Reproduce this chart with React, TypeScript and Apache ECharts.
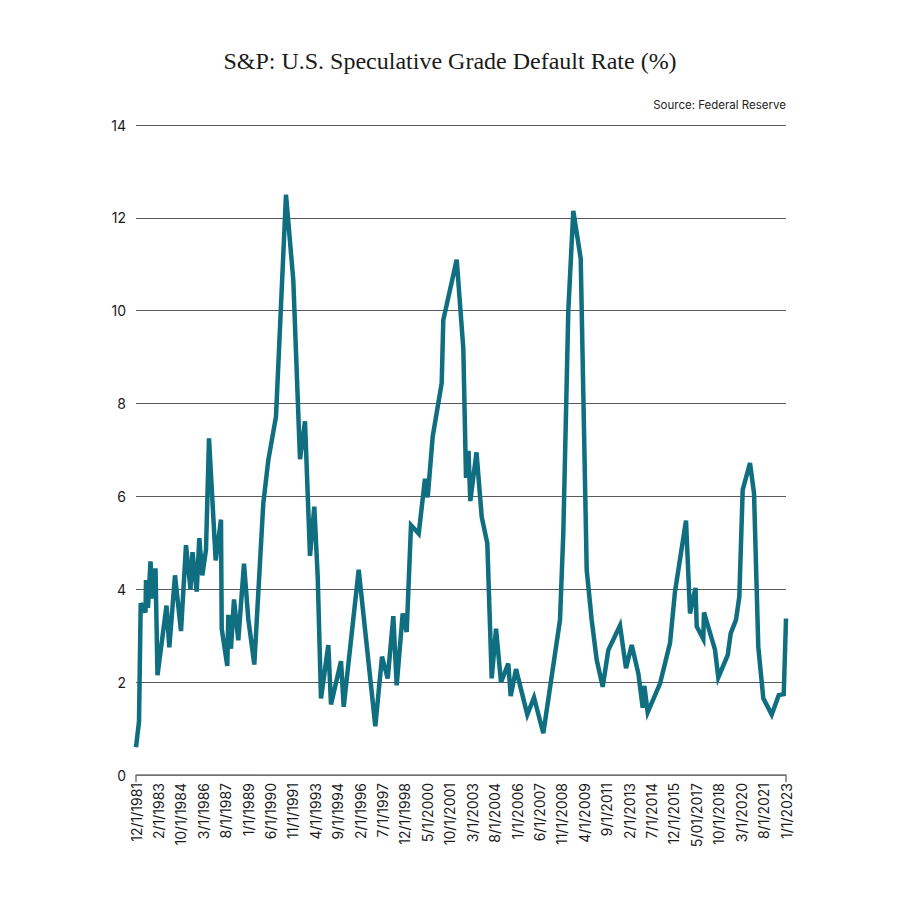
import React, { useEffect, useRef } from "react";
import * as echarts from "echarts";

const tickLabels = [
  "12/1/1981", "2/1/1983", "10/1/1984", "3/1/1986", "8/1/1987", "1/1/1989",
  "6/1/1990", "11/1/1991", "4/1/1993", "9/1/1994", "2/1/1996", "7/1/1997",
  "12/1/1998", "5/1/2000", "10/1/2001", "3/1/2003", "8/1/2004", "1/1/2006",
  "6/1/2007", "11/1/2008", "4/1/2009", "9/1/2011", "2/1/2013", "7/1/2014",
  "12/1/2015", "5/01/2017", "10/1/2018", "3/1/2020", "8/1/2021", "1/1/2023",
];

// position of each observation, measured in tick-label steps along the axis
const pointPos = [
  0, 0.134, 0.21, 0.424, 0.446, 0.535, 0.647, 0.736, 0.87, 0.959,
  1.361, 1.486, 1.74, 2.008, 2.231, 2.432, 2.521, 2.708, 2.824, 2.958,
  3.123, 3.257, 3.556, 3.792, 3.824, 4.073, 4.118, 4.238, 4.372, 4.564,
  4.818, 5.01, 5.278, 5.679, 5.903, 6.246, 6.692, 7.018, 7.317, 7.54,
  7.763, 7.955, 8.107, 8.254, 8.58, 8.7, 9.146, 9.267, 9.936, 10.677,
  10.975, 11.23, 11.48, 11.631, 11.899, 12.077, 12.269, 12.613, 12.894, 13.014,
  13.237, 13.639, 13.71, 14.308, 14.603, 14.723, 14.835, 14.915, 15.192, 15.424,
  15.674, 15.87, 16.062, 16.285, 16.61, 16.717, 16.954, 17.458, 17.757, 18.172,
  18.917, 19.064, 19.287, 19.51, 19.841, 20.108, 20.331, 20.554, 20.822, 21.072,
  21.594, 21.862, 22.116, 22.411, 22.607, 22.679, 22.83, 23.379, 23.825, 24.048,
  24.539, 24.718, 24.963, 25.016, 25.31, 25.341, 25.832, 25.979, 26.399, 26.533,
  26.769, 26.917, 27.068, 27.394, 27.573, 27.764, 27.988, 28.362, 28.676, 28.899,
  29,
];

const defaultRate = [
  0.6, 1.15, 3.7, 3.5, 4.2, 3.6, 4.6, 3.8, 4.45, 2.15,
  3.65, 2.75, 4.3, 3.1, 4.95, 4.0, 4.8, 3.95, 5.1, 4.3,
  4.85, 7.25, 4.62, 5.5, 3.15, 2.35, 3.45, 2.72, 3.78, 2.9,
  4.55, 3.36, 2.38, 5.85, 6.78, 7.72, 12.5, 10.66, 6.8, 7.62,
  4.72, 5.78, 4.27, 1.65, 2.8, 1.52, 2.45, 1.47, 4.42, 1.05,
  2.55, 2.08, 3.42, 1.93, 3.48, 3.08, 5.38, 5.2, 6.38, 5.98,
  7.29, 8.44, 9.8, 11.1, 9.19, 6.4, 6.98, 5.9, 6.95, 5.56,
  4.99, 2.08, 3.15, 2.0, 2.4, 1.7, 2.28, 1.3, 1.67, 0.9,
  3.34, 5.2, 10.0, 12.15, 11.12, 4.42, 3.34, 2.48, 1.9, 2.69,
  3.22, 2.3, 2.8, 2.19, 1.45, 1.92, 1.35, 1.97, 2.84, 3.95,
  5.48, 3.48, 4.03, 3.2, 2.93, 3.5, 2.7, 2.1, 2.58, 3.05,
  3.34, 3.84, 6.14, 6.72, 6.07, 2.76, 1.65, 1.3, 1.72, 1.74,
  3.37,
];

const yTicks = [0, 2, 4, 6, 8, 10, 12, 14];

const TITLE = "S&P: U.S. Speculative Grade Default Rate (%)";
const SOURCE = "Source: Federal Reserve";

export default function App() {
  const ref = useRef<HTMLDivElement>(null);

  useEffect(() => {
    if (!ref.current) return;
    const chart = echarts.init(ref.current, null, { renderer: "svg" });
    const sans = "Inter, 'Noto Sans', sans-serif";
    const data = pointPos.map((p, i) => [p, defaultRate[i]]);
    chart.setOption({
      animation: false,
      backgroundColor: "#ffffff",
      title: [
        {
          text: TITLE,
          left: "center",
          top: 49,
          padding: 0,
          textStyle: {
            fontFamily: "'Liberation Serif', 'DejaVu Serif', serif",
            fontSize: 24,
            fontWeight: "normal",
            color: "#1a1a1a",
          },
        },
        {
          text: SOURCE,
          right: 114,
          top: 99,
          padding: 0,
          textStyle: {
            fontFamily: sans,
            fontSize: 11.5,
            fontWeight: "normal",
            color: "#222",
          },
        },
      ],
      grid: { left: 136, right: 114, top: 125, bottom: 125, containLabel: false },
      xAxis: [
        {
          type: "value",
          min: 0,
          max: tickLabels.length - 1,
          interval: 1,
          axisLine: { show: true, lineStyle: { color: "#7a7a7a", width: 1.5 } },
          axisTick: { show: false },
          splitLine: { show: false },
          axisLabel: {
            rotate: 90,
            margin: 8,
            fontFamily: sans,
            fontSize: 14,
            color: "#1a1a1a",
            formatter: (v: number) => tickLabels[Math.round(v)] ?? "",
          },
        },
        {
          type: "value",
          min: 0,
          max: tickLabels.length - 1,
          interval: tickLabels.length - 1,
          position: "bottom",
          axisLine: { show: false },
          axisTick: { show: true, length: 7, lineStyle: { color: "#7a7a7a", width: 1.5 } },
          axisLabel: { show: false },
          splitLine: { show: false },
        },
      ],
      yAxis: {
        type: "value",
        min: yTicks[0],
        max: yTicks[yTicks.length - 1],
        interval: 2,
        axisLine: { show: false },
        axisTick: { show: false },
        axisLabel: {
          margin: 10,
          fontFamily: sans,
          fontSize: 14,
          color: "#1a1a1a",
        },
        splitLine: { show: true, lineStyle: { color: "#5a5a5a", width: 1 } },
      },
      series: [
        {
          type: "line",
          xAxisIndex: 0,
          data,
          showSymbol: false,
          symbol: "none",
          lineStyle: { color: "#0f6e80", width: 4.5, join: "miter" },
          z: 5,
        },
      ],
    });
    return () => chart.dispose();
  }, []);

  return <div ref={ref} style={{ width: 900, height: 900, margin: -8 }} />;
}
